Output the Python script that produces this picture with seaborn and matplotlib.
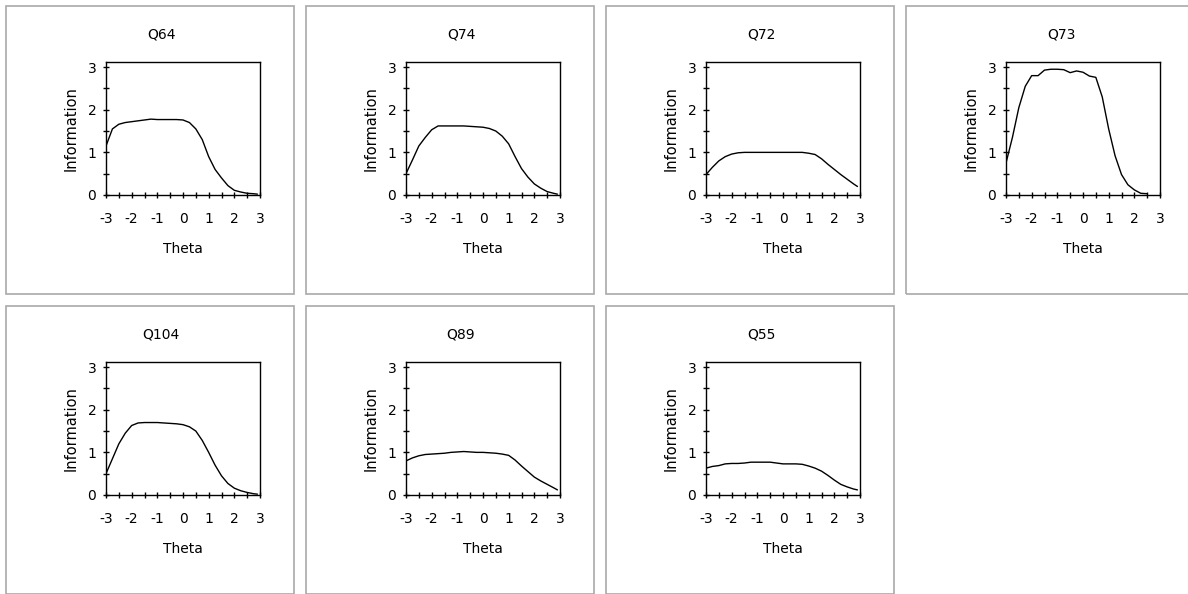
import numpy as np
import pandas as pd
import seaborn as sns
import matplotlib
matplotlib.use("Agg")
import matplotlib.pyplot as plt
from matplotlib.patches import Rectangle
from matplotlib.ticker import MultipleLocator

sns.set_style("white")
plt.rcParams['font.family'] = ['DejaVu Sans']
plt.rcParams['axes.unicode_minus'] = False
plt.rcParams['text.color'] = 'black'
plt.rcParams['axes.labelcolor'] = 'black'
plt.rcParams['xtick.color'] = 'black'
plt.rcParams['ytick.color'] = 'black'

theta = [-3.0, -2.75, -2.5, -2.25, -2.0, -1.75, -1.5, -1.25, -1.0, -0.75, -0.5, -0.25,
         0.0, 0.25, 0.5, 0.75, 1.0, 1.25, 1.5, 1.75, 2.0, 2.25, 2.5, 2.75, 2.9]

items = ["Q64", "Q74", "Q72", "Q73", "Q104", "Q89", "Q55"]

q64 = [1.15, 1.55, 1.66, 1.70, 1.72, 1.74, 1.76, 1.78, 1.77, 1.77, 1.77, 1.77,
       1.76, 1.70, 1.55, 1.30, 0.90, 0.60, 0.40, 0.22, 0.11, 0.07, 0.04, 0.03, 0.02]
q74 = [0.50, 0.82, 1.15, 1.35, 1.53, 1.62, 1.62, 1.62, 1.62, 1.62, 1.61, 1.60,
       1.59, 1.56, 1.50, 1.38, 1.20, 0.90, 0.62, 0.42, 0.26, 0.16, 0.08, 0.04, 0.02]
q72 = [0.48, 0.65, 0.80, 0.90, 0.96, 0.99, 1.00, 1.00, 1.00, 1.00, 1.00, 1.00,
       1.00, 1.00, 1.00, 1.00, 0.98, 0.95, 0.85, 0.72, 0.60, 0.48, 0.37, 0.26, 0.20]
q73 = [0.75, 1.35, 2.05, 2.55, 2.80, 2.80, 2.93, 2.95, 2.95, 2.94, 2.87, 2.91,
       2.88, 2.79, 2.76, 2.30, 1.55, 0.92, 0.48, 0.24, 0.12, 0.04, 0.03, np.nan, np.nan]
q104 = [0.50, 0.85, 1.20, 1.45, 1.63, 1.69, 1.70, 1.70, 1.70, 1.69, 1.68, 1.67,
        1.65, 1.60, 1.50, 1.28, 1.00, 0.70, 0.45, 0.27, 0.16, 0.10, 0.06, 0.03, 0.02]
q89 = [0.80, 0.87, 0.92, 0.95, 0.96, 0.97, 0.98, 1.00, 1.01, 1.02, 1.01, 1.00,
       1.00, 0.99, 0.98, 0.96, 0.93, 0.82, 0.68, 0.55, 0.42, 0.33, 0.25, 0.17, 0.12]
q55 = [0.63, 0.67, 0.69, 0.73, 0.74, 0.74, 0.75, 0.77, 0.77, 0.77, 0.77, 0.75,
       0.73, 0.73, 0.73, 0.72, 0.68, 0.63, 0.56, 0.46, 0.35, 0.25, 0.19, 0.14, 0.12]

series = [q64, q74, q72, q73, q104, q89, q55]

W, H = 1188, 594
fig = plt.figure(figsize=(W / 100, H / 100), dpi=100)
fig.patch.set_facecolor("white")
FS = 10

for i, (name, vals) in enumerate(zip(items, series)):
    r, c = divmod(i, 4)
    px0, py0 = 6 + 300 * c, 6 + 300 * r
    # panel border
    fig.patches.append(Rectangle((px0 / W, 1 - (py0 + 288) / H), 288 / W, 288 / H,
                                 transform=fig.transFigure, fill=False,
                                 edgecolor="#a9a9a9", linewidth=1.2))
    ax_left, ax_top, ax_w, ax_h = px0 + 100, py0 + 56, 154, 133
    ax = fig.add_axes([ax_left / W, 1 - (ax_top + ax_h) / H, ax_w / W, ax_h / H])
    df = pd.DataFrame({"Theta": theta, "Information": vals})
    sns.lineplot(data=df, x="Theta", y="Information", ax=ax, color="black",
                 linewidth=1.0, estimator=None)
    ax.set_xlim(-3, 3)
    ax.set_ylim(0, 3.12)
    ax.xaxis.set_major_locator(MultipleLocator(1))
    ax.xaxis.set_minor_locator(MultipleLocator(0.5))
    ax.yaxis.set_major_locator(MultipleLocator(1))
    ax.yaxis.set_minor_locator(MultipleLocator(0.5))
    ax.set_yticks([0, 1, 2, 3])
    ax.set_yticklabels(["0", "1", "2", "3"])
    ax.tick_params(which="both", direction="inout", length=5, width=1, color="black",
                   bottom=True, left=True, top=False, right=False)
    ax.tick_params(axis="x", which="major", pad=10, labelsize=FS)
    ax.tick_params(axis="y", which="major", pad=4.5, labelsize=FS)
    for s in ax.spines.values():
        s.set_color("black")
        s.set_linewidth(1.0)
        s.set_visible(True)
    ax.set_xlabel("Theta", fontsize=FS, labelpad=11.5)
    ax.set_ylabel("Information", fontsize=FS + 0.5, labelpad=6)
    fig.text((161 + 300 * c) / W, 1 - (35 + 300 * r) / H, name, fontsize=FS,
             ha="center", va="center")

fig.savefig("out.png", dpi=100, facecolor="white")
